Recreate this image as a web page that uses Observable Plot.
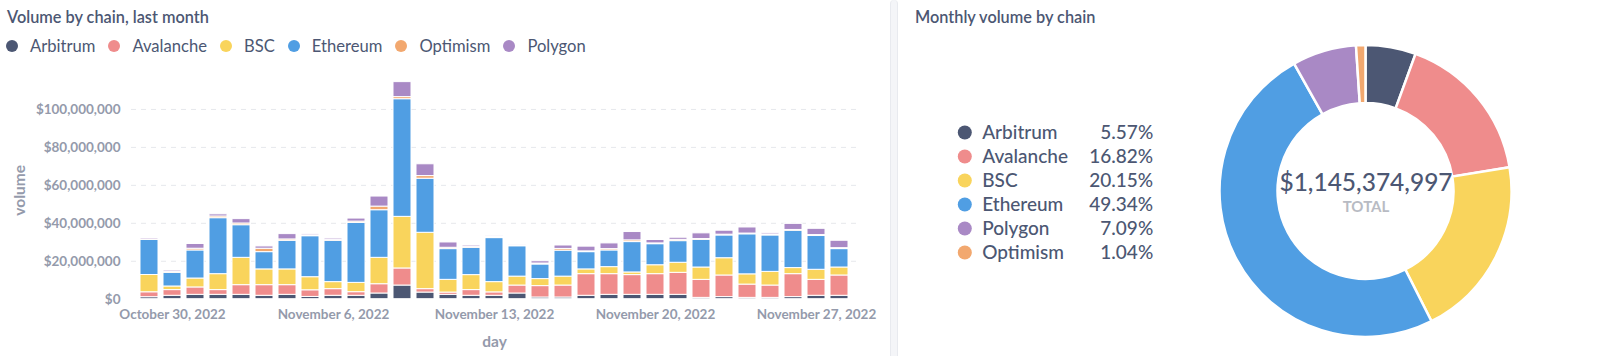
<!DOCTYPE html>
<html>
<head>
<meta charset="utf-8">
<script src="https://cdn.jsdelivr.net/npm/d3@7"></script>
<script src="https://cdn.jsdelivr.net/npm/@observablehq/plot@0.6"></script>
<style>
  html, body { margin: 0; padding: 0; background: #fff; }
  body { width: 1600px; height: 356px; position: relative; overflow: hidden; font-family: Lato, "Noto Sans", sans-serif; color: #4C5773; }
  .abs { position: absolute; }
  .title { font-size: 16.3px; font-weight: 600; line-height: 20px; color: #4C5773; white-space: nowrap; }
  #legendLeft { left: 6px; top: 36px; display: flex; align-items: center; font-size: 16.6px; line-height: 20px; white-space: nowrap; }
  #legendLeft .item { display: flex; align-items: center; margin-right: 13px; }
  #legendLeft .sw { width: 12px; height: 12px; border-radius: 50%; margin-right: 12px; }
  #sep { left: 890px; top: 0; width: 6px; height: 356px; background: #F4F5F8; border-left: 1px solid #E8EAEF; border-right: 1px solid #E8EAEF; border-radius: 6px 6px 0 0; }
</style>
</head>
<body>
<div class="abs title" style="left:7px; top:7px;">Volume by chain, last month</div>
<div class="abs" id="legendLeft"></div>
<div class="abs" id="leftChart" style="left:0; top:60px;"></div>
<div class="abs" id="sep"></div>
<div class="abs title" style="left:915px; top:7px;">Monthly volume by chain</div>
<div class="abs" id="rightChart" style="left:897px; top:0;"></div>
<script>
// ---- Data (daily volume, millions of USD) ----
const days = [
  "2022-10-29","2022-10-30","2022-10-31","2022-11-01","2022-11-02","2022-11-03","2022-11-04",
  "2022-11-05","2022-11-06","2022-11-07","2022-11-08","2022-11-09","2022-11-10","2022-11-11",
  "2022-11-12","2022-11-13","2022-11-14","2022-11-15","2022-11-16","2022-11-17","2022-11-18",
  "2022-11-19","2022-11-20","2022-11-21","2022-11-22","2022-11-23","2022-11-24","2022-11-25",
  "2022-11-26","2022-11-27","2022-11-28"
];
const chains = ["Arbitrum", "Avalanche", "BSC", "Ethereum", "Optimism", "Polygon"];
const chainColors = ["#4C5773", "#EF8C8C", "#F9D45C", "#509EE3", "#F2A86F", "#A989C5"];

const arbitrum  = [1.05,1.8,2.3,2.3,2.3,1.8,2.3,1.2,1.8,1.8,3.0,7.2,3.5,2.3,1.8,1.8,3.0,0.9,0.9,1.8,2.3,2.3,2.3,2.3,0.7,1.1,0.7,0.7,1.1,1.8,1.8];
const avalanche = [2.6,3.0,3.9,2.5,5.1,5.6,5.1,3.5,3.5,1.9,4.9,9.0,1.8,1.2,3.0,1.8,4.2,6.0,6.3,11.4,10.9,10.4,10.9,11.6,9.5,11.4,7.0,6.5,12.1,8.4,10.7];
const bsc       = [9.1,1.9,4.7,8.4,14.4,8.3,8.3,6.9,3.7,4.9,13.9,27.2,29.7,6.7,7.9,5.4,4.7,3.7,4.7,2.5,3.7,1.4,4.7,5.3,6.5,9.1,5.4,7.2,3.2,5.3,4.2];
const ethereum  = [18.5,7.2,14.8,29.5,17.2,9.1,15.1,21.6,21.8,31.6,25.1,62.0,28.5,16.2,14.4,23.2,16.0,7.7,13.7,9.1,8.8,16.0,11.1,11.4,14.6,12.0,21.1,19.2,19.7,17.8,9.7];
const optimism  = [0.3,0.5,0.9,0.9,0.9,1.8,0.7,0.5,0.5,0.7,1.9,1.1,1.4,0.7,0.5,0.5,0.4,0.5,0.9,0.4,0.7,0.9,0.4,0.7,0.4,0.4,0.4,0.5,0.4,0.5,0.5];
const polygon   = [0.7,0.7,2.5,1.1,2.3,1.2,2.8,0.7,0.7,1.6,5.3,7.9,6.2,2.8,0.7,0.5,0.2,1.2,1.8,2.5,3.0,4.4,1.8,1.1,3.0,2.1,3.2,0.7,3.2,3.3,3.9];

const xTickDays = ["2022-10-30", "2022-11-06", "2022-11-13", "2022-11-20", "2022-11-27"];
const yTicks = [0, 20e6, 40e6, 60e6, 80e6, 100e6];

// Donut (monthly share by chain, %)
const donutChains = ["Arbitrum", "Avalanche", "BSC", "Ethereum", "Polygon", "Optimism"];
const donutShares = [5.57, 16.82, 20.15, 49.34, 7.09, 1.04];
const totalVolume = 1145374997;

// ---- Build tables ----
const seriesByChain = {Arbitrum: arbitrum, Avalanche: avalanche, BSC: bsc, Ethereum: ethereum, Optimism: optimism, Polygon: polygon};
const rows = [];
days.forEach((day, i) => chains.forEach(c => rows.push({day, chain: c, volume: seriesByChain[c][i] * 1e6})));
const legendRows = donutChains.map((c, i) => ({chain: c, share: donutShares[i]}));

const parseDay = d3.timeParse("%Y-%m-%d");
const fmtDay = d => d3.timeFormat("%B %-d, %Y")(parseDay(d));

// ---- Top-left legend ----
const lg = d3.select("#legendLeft");
chains.forEach((c, i) => {
  const it = lg.append("div").attr("class", "item");
  it.append("div").attr("class", "sw").style("background", chainColors[i]);
  it.append("span").text(c);
});

// ---- Left: stacked bars ----
const left = Plot.plot({
  width: 890,
  height: 296,
  marginLeft: 131,
  marginRight: 33,
  marginTop: 11,
  marginBottom: 57.3,
  style: {fontFamily: "Lato, sans-serif", fontSize: "13.5px", fontWeight: 700, color: "#949AAB", background: "transparent", overflow: "visible"},
  x: {type: "band", domain: days, paddingInner: 0.2, paddingOuter: 0.355, ticks: xTickDays, tickFormat: fmtDay, tickSize: 0, tickPadding: 10, label: null},
  y: {domain: [0, 120e6], ticks: yTicks, tickFormat: d3.format("$,"), tickSize: 0, tickPadding: 11, label: null},
  color: {domain: chains, range: chainColors},
  marks: [
    Plot.ruleY(yTicks.slice(1), {stroke: "#E6E8EC", strokeDasharray: "5,5"}),
    Plot.barY(rows, {x: "day", y: "volume", fill: "chain", order: chains, stroke: "white", strokeWidth: 1}),
    Plot.text(["volume"], {frameAnchor: "left", textAnchor: "middle", lineAnchor: "middle", dx: -111, dy: 5, rotate: -90, fontSize: 15.5, fontWeight: 700}),
    Plot.text(["day"], {frameAnchor: "bottom", textAnchor: "middle", lineAnchor: "middle", dy: 42.5, fontSize: 15.5, fontWeight: 700})
  ]
});
document.getElementById("leftChart").appendChild(left);

// ---- Right: legend + donut ----
function donut(index, scales, values, dimensions) {
  const pie = d3.pie().sort(null).value(d => d.share)(legendRows);
  const arc = d3.arc().innerRadius(88).outerRadius(146);
  const g = d3.create("svg:g").attr("transform", "translate(468.5,191)");
  g.selectAll("path").data(pie).join("path")
    .attr("d", arc)
    .attr("fill", d => scales.color(d.data.chain))
    .attr("stroke", "white")
    .attr("stroke-width", 2.5);
  return g.node();
}

const right = Plot.plot({
  width: 703,
  height: 356,
  marginLeft: 0,
  marginRight: 0,
  marginTop: 131.5,
  marginBottom: 104,
  style: {fontFamily: "Lato, sans-serif", fontSize: "19px", fontWeight: 500, color: "#4C5773", background: "transparent", overflow: "visible"},
  y: {type: "point", domain: donutChains, padding: 0, axis: null},
  color: {domain: chains, range: chainColors},
  marks: [
    Plot.dot(legendRows, {y: "chain", fill: "chain", r: 7, frameAnchor: "left", dx: 67.3}),
    Plot.text(legendRows, {y: "chain", text: "chain", frameAnchor: "left", dx: 84.7, textAnchor: "start"}),
    Plot.text(legendRows, {y: "chain", text: d => d.share.toFixed(2) + "%", frameAnchor: "left", dx: 255.7, textAnchor: "end"}),
    donut,
    Plot.text([d3.format("$,")(totalVolume)], {frameAnchor: "left", dx: 468.5, dy: -9, textAnchor: "middle", fontSize: 24.5}),
    Plot.text(["TOTAL"], {frameAnchor: "left", dx: 468.5, dy: 14.5, textAnchor: "middle", fontSize: 15, fontWeight: 700, fill: "#B8BBC3"})
  ]
});
document.getElementById("rightChart").appendChild(right);
</script>
</body>
</html>
